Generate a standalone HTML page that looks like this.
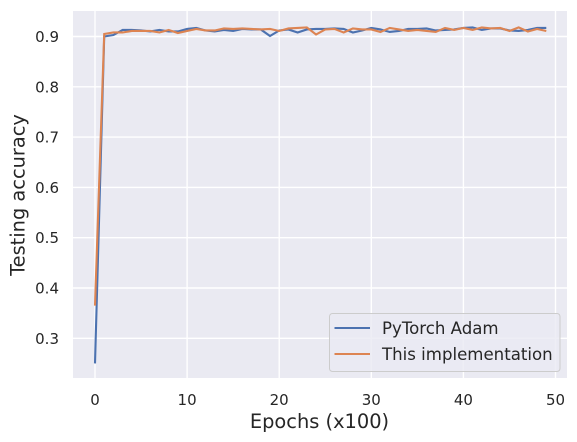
<!DOCTYPE html>
<html>
<head>
<meta charset="utf-8">
<style>
html,body{margin:0;padding:0;background:#fff;width:577px;height:442px;overflow:hidden}
svg{display:block}
text{font-family:"DejaVu Sans",sans-serif;fill:#262626}
</style>
</head>
<body>
<svg id="chart" width="577" height="442" viewBox="0 0 577 442" xmlns="http://www.w3.org/2000/svg">
<rect id="plot-bg" x="73" y="11" width="494" height="367" fill="#eaeaf2"/>
<g id="grid"></g>
<g id="series"></g>
<g id="ticks"></g>
<text x="319.5" y="428" font-size="19.4" text-anchor="middle">Epochs (x100)</text>
<text transform="translate(24.5,195) rotate(-90)" font-size="19.4" text-anchor="middle">Testing accuracy</text>
<g>
<rect x="329.5" y="313.5" width="230.5" height="58" rx="3" fill="#eaeaf2" fill-opacity="0.8" stroke="#cccccc"/>
<line id="legend-line-a" x1="334.5" x2="370" y1="328" y2="328" stroke="#4c72b0" stroke-width="2.1"/>
<text x="382" y="334" font-size="16.6">PyTorch Adam</text>
<line id="legend-line-b" x1="334.5" x2="370" y1="354" y2="354" stroke="#dd8452" stroke-width="2.1"/>
<text x="382" y="360" font-size="16.6">This implementation</text>
</g>
</svg>
<script>
const epochs = [];
for (let i = 0; i < 50; i++) epochs.push(i);
const xTicks = [0, 10, 20, 30, 40, 50];
const yTicks = [0.3, 0.4, 0.5, 0.6, 0.7, 0.8, 0.9];
const pytorchAdam = [0.25,0.900,0.903,0.913,0.913,0.912,0.910,0.913,0.910,0.910,0.915,0.917,0.912,0.910,0.913,0.911,0.915,0.914,0.914,0.901,0.912,0.914,0.908,0.914,0.915,0.915,0.916,0.915,0.908,0.912,0.917,0.914,0.909,0.911,0.915,0.915,0.916,0.912,0.913,0.914,0.917,0.918,0.913,0.916,0.916,0.912,0.911,0.913,0.917,0.917];
const thisImplementation = [0.365,0.905,0.908,0.908,0.911,0.911,0.911,0.908,0.913,0.907,0.911,0.915,0.912,0.912,0.916,0.915,0.916,0.915,0.914,0.915,0.911,0.916,0.917,0.918,0.904,0.914,0.915,0.908,0.916,0.914,0.914,0.909,0.917,0.914,0.911,0.913,0.911,0.909,0.917,0.913,0.917,0.913,0.918,0.916,0.917,0.911,0.918,0.910,0.915,0.911];

const NS = 'http://www.w3.org/2000/svg';
function xScale(v) { return 95 + v * 9.21; }
function yScale(v) { return 36.5 + (0.9 - v) * 503; }

const grid = document.getElementById('grid');
const ticks = document.getElementById('ticks');
const series = document.getElementById('series');

xTicks.forEach(function (t) {
  const l = document.createElementNS(NS, 'line');
  
  
  l.setAttribute('x1', xScale(t)); l.setAttribute('x2', xScale(t));
  l.setAttribute('y1', 11); l.setAttribute('y2', 378);
  l.setAttribute('stroke', '#fff'); l.setAttribute('stroke-width', 1.4);
  grid.appendChild(l);
  const s = document.createElementNS(NS, 'text');
  
  
  s.setAttribute('x', xScale(t)); s.setAttribute('y', 405);
  s.setAttribute('font-size', 15); s.setAttribute('text-anchor', 'middle');
  s.textContent = String(t);
  ticks.appendChild(s);
});
yTicks.forEach(function (t) {
  const l = document.createElementNS(NS, 'line');
  
  
  l.setAttribute('x1', 73); l.setAttribute('x2', 567);
  l.setAttribute('y1', yScale(t)); l.setAttribute('y2', yScale(t));
  l.setAttribute('stroke', '#fff'); l.setAttribute('stroke-width', 1.4);
  grid.appendChild(l);
  const s = document.createElementNS(NS, 'text');
  
  
  s.setAttribute('x', 59); s.setAttribute('y', yScale(t) + 5.5);
  s.setAttribute('font-size', 15); s.setAttribute('text-anchor', 'end');
  s.textContent = t.toFixed(1);
  ticks.appendChild(s);
});

function drawLine(values, color, name) {
  const p = document.createElementNS(NS, 'polyline');
  
  
  p.setAttribute('points', values.map(function (v, i) { return xScale(epochs[i]) + ',' + yScale(v); }).join(' '));
  p.setAttribute('fill', 'none');
  p.setAttribute('stroke', color);
  p.setAttribute('stroke-width', 2.1);
  series.appendChild(p);
}
drawLine(pytorchAdam, '#4c72b0', 'line-pytorch-adam');
drawLine(thisImplementation, '#dd8452', 'line-this-implementation');
</script>
</body>
</html>
